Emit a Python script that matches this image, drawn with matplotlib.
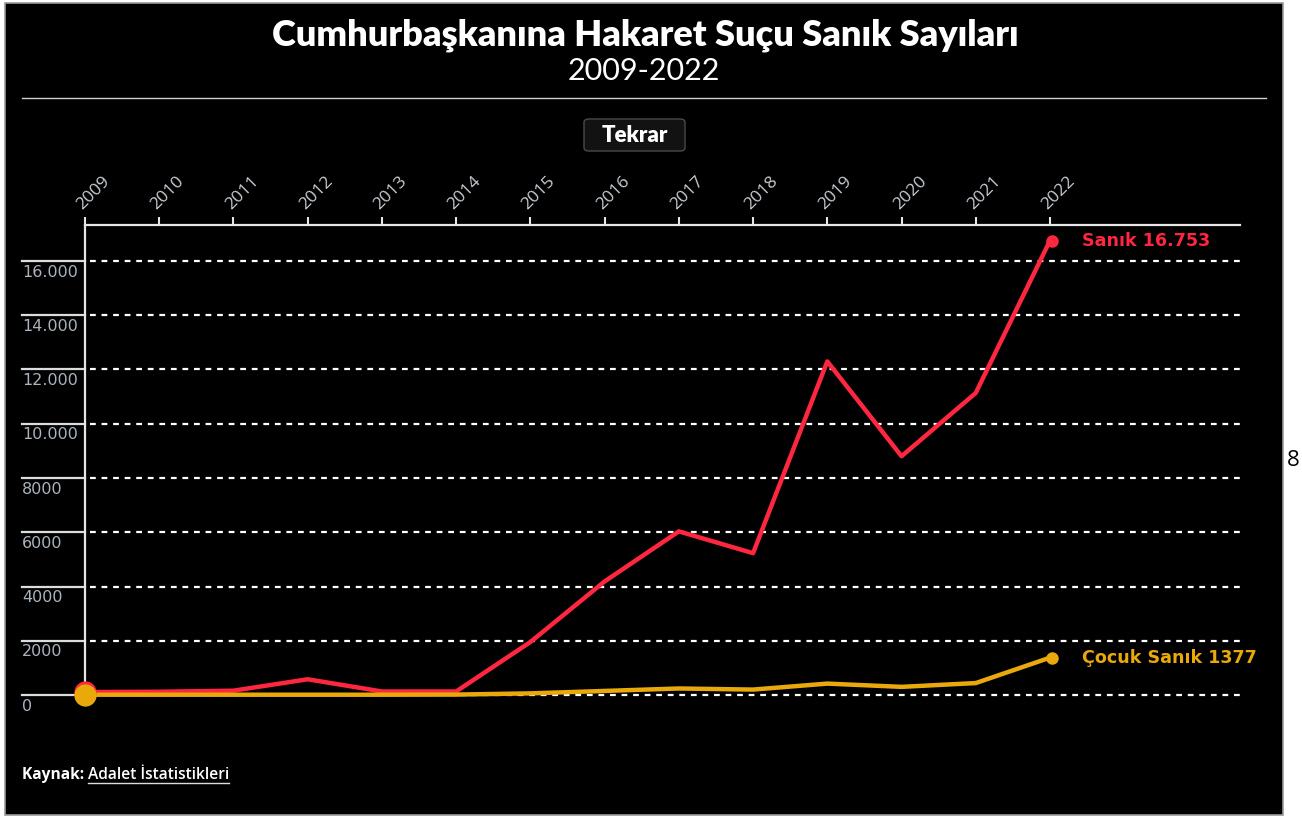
import matplotlib
matplotlib.use("Agg")
import matplotlib.pyplot as plt
from matplotlib.patches import Rectangle, FancyBboxPatch
from matplotlib.lines import Line2D

# data
years = [2009, 2010, 2011, 2012, 2013, 2014, 2015, 2016, 2017, 2018, 2019, 2020, 2021, 2022]
sanik = [110, 120, 160, 580, 130, 130, 1953, 4187, 6033, 5229, 12298, 8803, 11136, 16753]
cocuk_sanik = [10, 10, 10, 10, 10, 15, 60, 150, 240, 200, 420, 300, 440, 1377]
y_ticks = [0, 2000, 4000, 6000, 8000, 10000, 12000, 14000, 16000]
y_tick_labels = ["0", "2000", "4000", "6000", "8000", "10.000", "12.000", "14.000", "16.000"]

RED = "#ff2640"
YELLOW = "#eaa90a"
W, H = 1302, 819


def fx(px):
    return px / W


def fy(py):
    return 1 - py / H


fig = plt.figure(figsize=(13.02, 8.19), dpi=100, facecolor="white")

# black panel
fig.patches.append(Rectangle((fx(5), fy(815)), fx(1283) - fx(5), fy(3) - fy(815),
                             transform=fig.transFigure, facecolor="black",
                             edgecolor="#9a9a9a", lw=1.2, zorder=-10))
fig.text(fx(1287), fy(461), "8", fontsize=16, color="black", family="Open Sans",
         ha="left", va="center")

# titles
fig.text(fx(645), fy(35), "Cumhurbaşkanına Hakaret Suçu Sanık Sayıları", color="white",
         fontsize=26, fontweight="heavy", family="Lato", ha="center", va="center")
fig.text(fx(644), fy(71), "2009-2022", color="white", fontsize=22, family="Lato",
         ha="center", va="center")
fig.lines.append(Line2D([fx(22), fx(1266)], [fy(98), fy(98)], transform=fig.transFigure,
                        color="#d0d0d0", lw=1))

# button
fig.patches.append(FancyBboxPatch((fx(584), fy(151)), fx(685) - fx(584), fy(119) - fy(151),
                                  boxstyle="round,pad=0,rounding_size=0.004",
                                  transform=fig.transFigure, facecolor="#121212",
                                  edgecolor="#4a4a4a", lw=1, zorder=-5))
fig.text(fx(634.5), fy(135), "Tekrar", color="white", fontsize=16, fontweight="heavy",
         family="Lato", ha="center", va="center")

# axes
ax = fig.add_axes([fx(85), fy(705), fx(1240) - fx(85), fy(225) - fy(705)])
ax.set_facecolor("none")
px_per_year = (1050 - 85) / 13
ax.set_xlim(2009, 2009 + (1240 - 85) / px_per_year)
px_per_unit = (695 - 261) / 16000
ax.set_ylim(-(705 - 695) / px_per_unit, (695 - 225) / px_per_unit)

for s in ["bottom", "right"]:
    ax.spines[s].set_visible(False)
ax.spines["top"].set_color("#e6e6e6")
ax.spines["top"].set_linewidth(1.6)
ax.spines["left"].set_color("#e6e6e6")
ax.spines["left"].set_linewidth(1.6)

ax.xaxis.tick_top()
ax.set_xticks(years)
ax.set_xticklabels([str(y) for y in years], rotation=45, ha="left", va="bottom",
                   rotation_mode="anchor", color="#c8cdd2", fontsize=12.5,
                   family="Open Sans")
ax.tick_params(axis="x", length=6, width=1.5, color="#e6e6e6", pad=3)
ax.set_yticks([])

# gridlines
tr = ax.get_yaxis_transform()
left_x = (22 - 85) / (1240 - 85)
start_x = (90 - 85) / (1240 - 85)
for v, lab in zip(y_ticks, y_tick_labels):
    ax.plot([start_x, 1], [v, v], transform=tr, color="white", lw=1.6,
            linestyle=(0, (2.6, 2.6)), zorder=1)
    ax.plot([left_x, 0], [v, v], transform=tr, color="#dcdcdc", lw=1.6,
            clip_on=False, zorder=1)
    ax.text(left_x, v - 130, lab, transform=tr, color="#aab3bc", fontsize=11.5,
            ha="left", va="top", clip_on=False)

# lines
ax.plot(years, sanik, color=RED, lw=3.2, solid_capstyle="round", zorder=3)
ax.plot(years, cocuk_sanik, color=YELLOW, lw=3.2, solid_capstyle="round", zorder=4)
ax.plot(years[0], sanik[0], "o", color=RED, ms=16, mec="none", zorder=5, clip_on=False)
ax.plot(years[0], cocuk_sanik[0], "o", color=YELLOW, ms=16, mec="none", zorder=6,
        clip_on=False)
ax.plot(years[-1] + 0.03, sanik[-1], "o", color=RED, ms=9, mec="none", zorder=5)
ax.plot(years[-1] + 0.03, cocuk_sanik[-1], "o", color=YELLOW, ms=9, mec="none", zorder=6)

x_lab = 2009 + (1082 - 85) / px_per_year
ax.text(x_lab, sanik[-1], "Sanık 16.753", color=RED, fontsize=12.6, fontweight="bold",
        ha="left", va="center", clip_on=False)
ax.text(x_lab, cocuk_sanik[-1], f"Çocuk Sanık {cocuk_sanik[-1]}", color=YELLOW,
        fontsize=12.6, fontweight="bold", ha="left", va="center", clip_on=False)

# source
t1 = fig.text(fx(22), fy(775), "Kaynak: ", color="white", fontsize=11.2, fontweight="bold",
              family="Open Sans", ha="left", va="center")
fig.canvas.draw()
bb = t1.get_window_extent()
t2 = fig.text(bb.x1 / W, fy(775), "Adalet İstatistikleri", color="white", fontsize=11.2,
              fontweight="semibold", family="Open Sans", ha="left", va="center")
fig.canvas.draw()
bb2 = t2.get_window_extent()
fig.lines.append(Line2D([bb2.x0 / W, bb2.x1 / W], [fy(783), fy(783)],
                        transform=fig.transFigure, color="#dddddd", lw=1))

fig.savefig("out.png", dpi=100, facecolor="white")
